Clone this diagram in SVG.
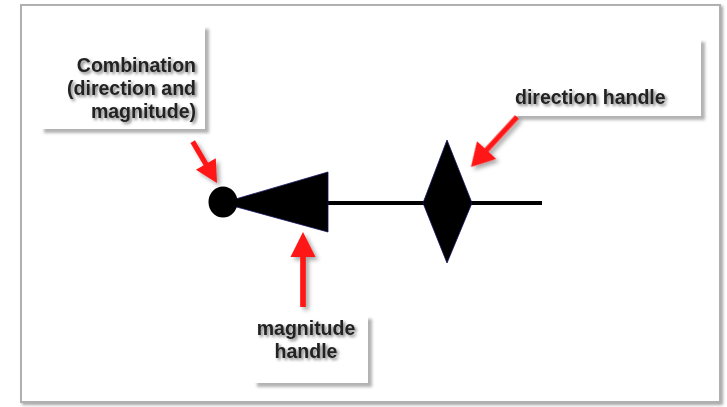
<svg xmlns="http://www.w3.org/2000/svg" width="727" height="407" viewBox="0 0 727 407">
  <defs>
    <filter id="boxShadow" x="-10%" y="-10%" width="130%" height="130%">
      <feDropShadow dx="4" dy="4" stdDeviation="1.6" flood-color="#000" flood-opacity="0.3"/>
    </filter>
    <filter id="frameShadow" x="-5%" y="-5%" width="110%" height="110%">
      <feDropShadow dx="2" dy="2" stdDeviation="1.5" flood-color="#000" flood-opacity="0.35"/>
    </filter>
    <filter id="textShadow" x="-10%" y="-30%" width="130%" height="180%">
      <feDropShadow dx="2" dy="2" stdDeviation="1.5" flood-color="#000" flood-opacity="0.5"/>
    </filter>
    <filter id="arrowShadow" x="-30%" y="-30%" width="170%" height="170%">
      <feDropShadow dx="3" dy="3" stdDeviation="2" flood-color="#000" flood-opacity="0.35"/>
    </filter>
  </defs>
  <style>
    .box { fill: #ffffff; filter: url(#boxShadow); }
    .label { font-family: "Liberation Sans", Arial, sans-serif; font-weight: bold; font-size: 19.5px; fill: #222222; filter: url(#textShadow); }
    .shape { fill: #000000; stroke: #12125e; stroke-width: 0.8; }
    .callout { fill: #ff1414; filter: url(#arrowShadow); }
  </style>

  <rect width="727" height="407" fill="#ffffff"/>

  <!-- outer frame -->
  <g id="frame">
    <rect x="21" y="5" width="699" height="397" fill="#ffffff" stroke="#b0b0b0" stroke-width="2" filter="url(#frameShadow)"/>
  </g>

  <!-- callout label boxes -->
  <g id="label-combination">
    <rect class="box" x="40" y="25" width="165" height="104"/>
    <text class="label" text-anchor="end" x="196" y="72">Combination</text>
    <text class="label" text-anchor="end" x="196" y="95">(direction and</text>
    <text class="label" text-anchor="end" x="196" y="118">magnitude)</text>
  </g>

  <g id="label-direction">
    <rect class="box" x="512" y="38" width="189" height="78"/>
    <text class="label" x="515" y="104">direction handle</text>
  </g>

  <g id="label-magnitude">
    <rect class="box" x="253" y="315" width="115" height="68"/>
    <text class="label" text-anchor="middle" x="306" y="335">magnitude</text>
    <text class="label" text-anchor="middle" x="306" y="358">handle</text>
  </g>

  <!-- handle widget -->
  <g id="axis">
    <line x1="326" y1="203" x2="542" y2="203" stroke="#000" stroke-width="4"/>
  </g>
  <g id="handle-magnitude">
    <polygon class="shape" points="222,203 328,172 328,232"/>
  </g>
  <g id="handle-combination">
    <ellipse cx="223" cy="202" rx="14.5" ry="15.5" fill="#000"/>
  </g>
  <g id="handle-direction">
    <polygon class="shape" points="447,140 472,203 447,263 423,203"/>
  </g>

  <!-- red callout arrows -->
  <g id="connectors" class="callout">
    <g transform="translate(217,183) rotate(59.6)">
      <rect x="-48" y="-2.6" width="28" height="5.2"/>
      <polygon points="0,0 -22,-11.5 -22,11.5"/>
    </g>
    <g transform="translate(303,232) rotate(-90)">
      <rect x="-75" y="-2.8" width="53" height="5.6"/>
      <polygon points="0,0 -25,-12.5 -25,12.5"/>
    </g>
    <g transform="translate(471,167) rotate(132.6)">
      <rect x="-68" y="-2.6" width="46" height="5.2"/>
      <polygon points="0,0 -23,-13 -23,13"/>
    </g>
  </g>
</svg>
